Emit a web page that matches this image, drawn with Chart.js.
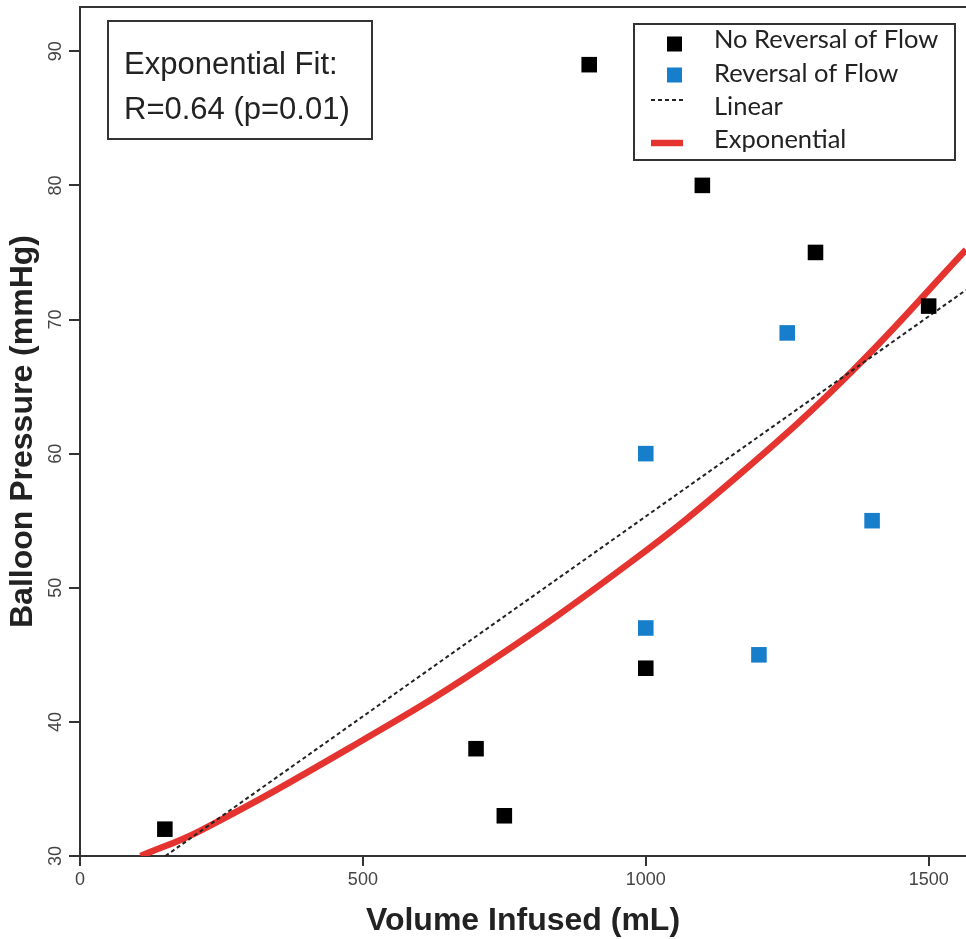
<!DOCTYPE html>
<html>
<head>
<meta charset="utf-8">
<script src="https://cdn.jsdelivr.net/npm/chart.js@4/dist/chart.umd.min.js"></script>
<style>
  body { margin: 0; background: #fff; }
  #wrap { width: 966px; height: 939px; }
</style>
</head>
<body>
<div id="wrap"><canvas id="myChart" width="966" height="939"></canvas></div>
<script>
// balloon pressure (mmHg) against volume infused (mL)
var noRevX = [150, 700, 750, 900, 1000, 1100, 1300, 1500];
var noRevY = [32, 38, 33, 89, 44, 80, 75, 71];
var revX = [1000, 1000, 1200, 1250, 1400];
var revY = [60, 47, 45, 69, 55];
// fit lines
var linX = [151, 1566];
var linY = [30, 72.2];
var expX = [107, 213, 478, 707, 973, 1167, 1366, 1566];
var expY = [30, 31.9, 38.1, 44.0, 51.9, 58.5, 66.2, 75.2];
var xTicks = [0, 500, 1000, 1500];
var yTicks = [30, 40, 50, 60, 70, 80, 90];
var labels = ['No Reversal of Flow', 'Reversal of Flow', 'Linear', 'Exponential'];
var fitText = ['Exponential Fit:', 'R=0.64 (p=0.01)'];

var BLUE = '#167ecb';
var RED = '#e53430';
var AXIS = '#333';
var SANS = '"Liberation Sans", Arial, Helvetica, sans-serif';

function pts(xs, ys) {
    var out = [];
    for (var i = 0; i < xs.length; i++) out.push({x: xs[i], y: ys[i]});
    return out;
}

function setTicks(list) {
    return function(scale) {
        scale.ticks = list.map(function(v) { return {value: v}; });
    };
}

function plain(v) { return String(v); }

// frame top line, fit annotation and legend box
var extras = {
    id: 'extras',
    afterDraw: function(chart) {
        var ctx = chart.ctx;
        var a = chart.chartArea;
        var ds = chart.data.datasets;
        ctx.save();
        ctx.strokeStyle = AXIS;
        ctx.lineWidth = 2;
        ctx.beginPath();
        ctx.moveTo(a.left - 1, a.top);
        ctx.lineTo(a.right, a.top);
        ctx.stroke();

        ctx.fillStyle = '#fff';
        ctx.fillRect(108, 21, 264, 118);
        ctx.strokeRect(108, 21, 264, 118);
        ctx.fillStyle = '#222';
        ctx.font = '31px ' + SANS;
        ctx.textBaseline = 'alphabetic';
        ctx.fillText(fitText[0], 124, 74);
        ctx.fillText(fitText[1], 124, 119);

        ctx.fillStyle = '#fff';
        ctx.fillRect(634, 24, 321, 136);
        ctx.strokeRect(634, 24, 321, 136);
        var base = [48, 82, 115, 148];
        var mark = [44, 75, 100, 143];
        ctx.font = '25.5px Lato, "Open Sans", sans-serif';
        for (var i = 0; i < ds.length; i++) {
            var d = ds[i];
            if (d.showLine) {
                ctx.save();
                ctx.strokeStyle = d.borderColor;
                ctx.lineWidth = d.borderWidth;
                ctx.setLineDash(d.borderDash || []);
                ctx.beginPath();
                ctx.moveTo(651, mark[i]);
                ctx.lineTo(683, mark[i]);
                ctx.stroke();
                ctx.restore();
            } else {
                ctx.fillStyle = d.backgroundColor;
                ctx.fillRect(667, mark[i] - 7.5, 15, 15);
            }
            ctx.fillStyle = '#222';
            ctx.fillText(d.label, 714, base[i]);
        }
        ctx.restore();
    }
};

var ctx = document.getElementById('myChart').getContext('2d');
var myChart = new Chart(ctx, {
    type: 'scatter',
    data: {
        datasets: [{
            label: labels[0],
            data: pts(noRevX, noRevY),
            pointStyle: 'rect',
            pointRadius: 11,
            backgroundColor: '#000',
            borderColor: '#000',
            borderWidth: 0
        }, {
            label: labels[1],
            data: pts(revX, revY),
            pointStyle: 'rect',
            pointRadius: 11,
            backgroundColor: BLUE,
            borderColor: BLUE,
            borderWidth: 0
        }, {
            label: labels[2],
            data: pts(linX, linY),
            showLine: true,
            borderColor: '#222',
            borderWidth: 2,
            borderDash: [4, 3],
            pointRadius: 0
        }, {
            label: labels[3],
            data: pts(expX, expY),
            showLine: true,
            borderColor: RED,
            borderWidth: 6.5,
            tension: 0.4,
            pointRadius: 0
        }]
    },
    options: {
        responsive: false,
        animation: false,
        layout: { autoPadding: false, padding: { top: 7, right: 0, bottom: 0, left: 0 } },
        plugins: {
            legend: { display: false },
            tooltip: { enabled: false }
        },
        scales: {
            x: {
                type: 'linear',
                min: 0,
                max: 1566,
                afterBuildTicks: setTicks(xTicks),
                afterFit: function(s) { s.height = 83; s.paddingLeft = 0; s.paddingRight = 0; },
                grid: { display: true, drawOnChartArea: false, drawTicks: true, tickLength: 10, color: AXIS, lineWidth: 2 },
                border: { display: true, color: AXIS, width: 2 },
                ticks: { color: '#444', padding: 3, font: { family: SANS, size: 18 }, maxRotation: 0, callback: plain },
                title: {
                    display: true,
                    text: 'Volume Infused (mL)',
                    color: '#222',
                    padding: { top: 0, bottom: 0 },
                    font: { family: SANS, size: 32, weight: 'bold', lineHeight: 1.1 }
                }
            },
            y: {
                type: 'linear',
                min: 30,
                max: 93.3,
                afterBuildTicks: setTicks(yTicks),
                afterFit: function(s) { s.width = 80; s.paddingTop = 0; s.paddingBottom = 0; },
                grid: { display: true, drawOnChartArea: false, drawTicks: true, tickLength: 11, color: AXIS, lineWidth: 2 },
                border: { display: true, color: AXIS, width: 2 },
                ticks: { color: '#444', padding: 2.5, minRotation: 90, maxRotation: 90, crossAlign: 'center', font: { family: SANS, size: 18 }, callback: plain },
                title: {
                    display: true,
                    text: 'Balloon Pressure (mmHg)',
                    color: '#222',
                    padding: { top: 6, bottom: 0 },
                    font: { family: SANS, size: 32, weight: 'bold', lineHeight: 1.1 }
                }
            }
        }
    },
    plugins: [extras]
});
</script>
</body>
</html>
